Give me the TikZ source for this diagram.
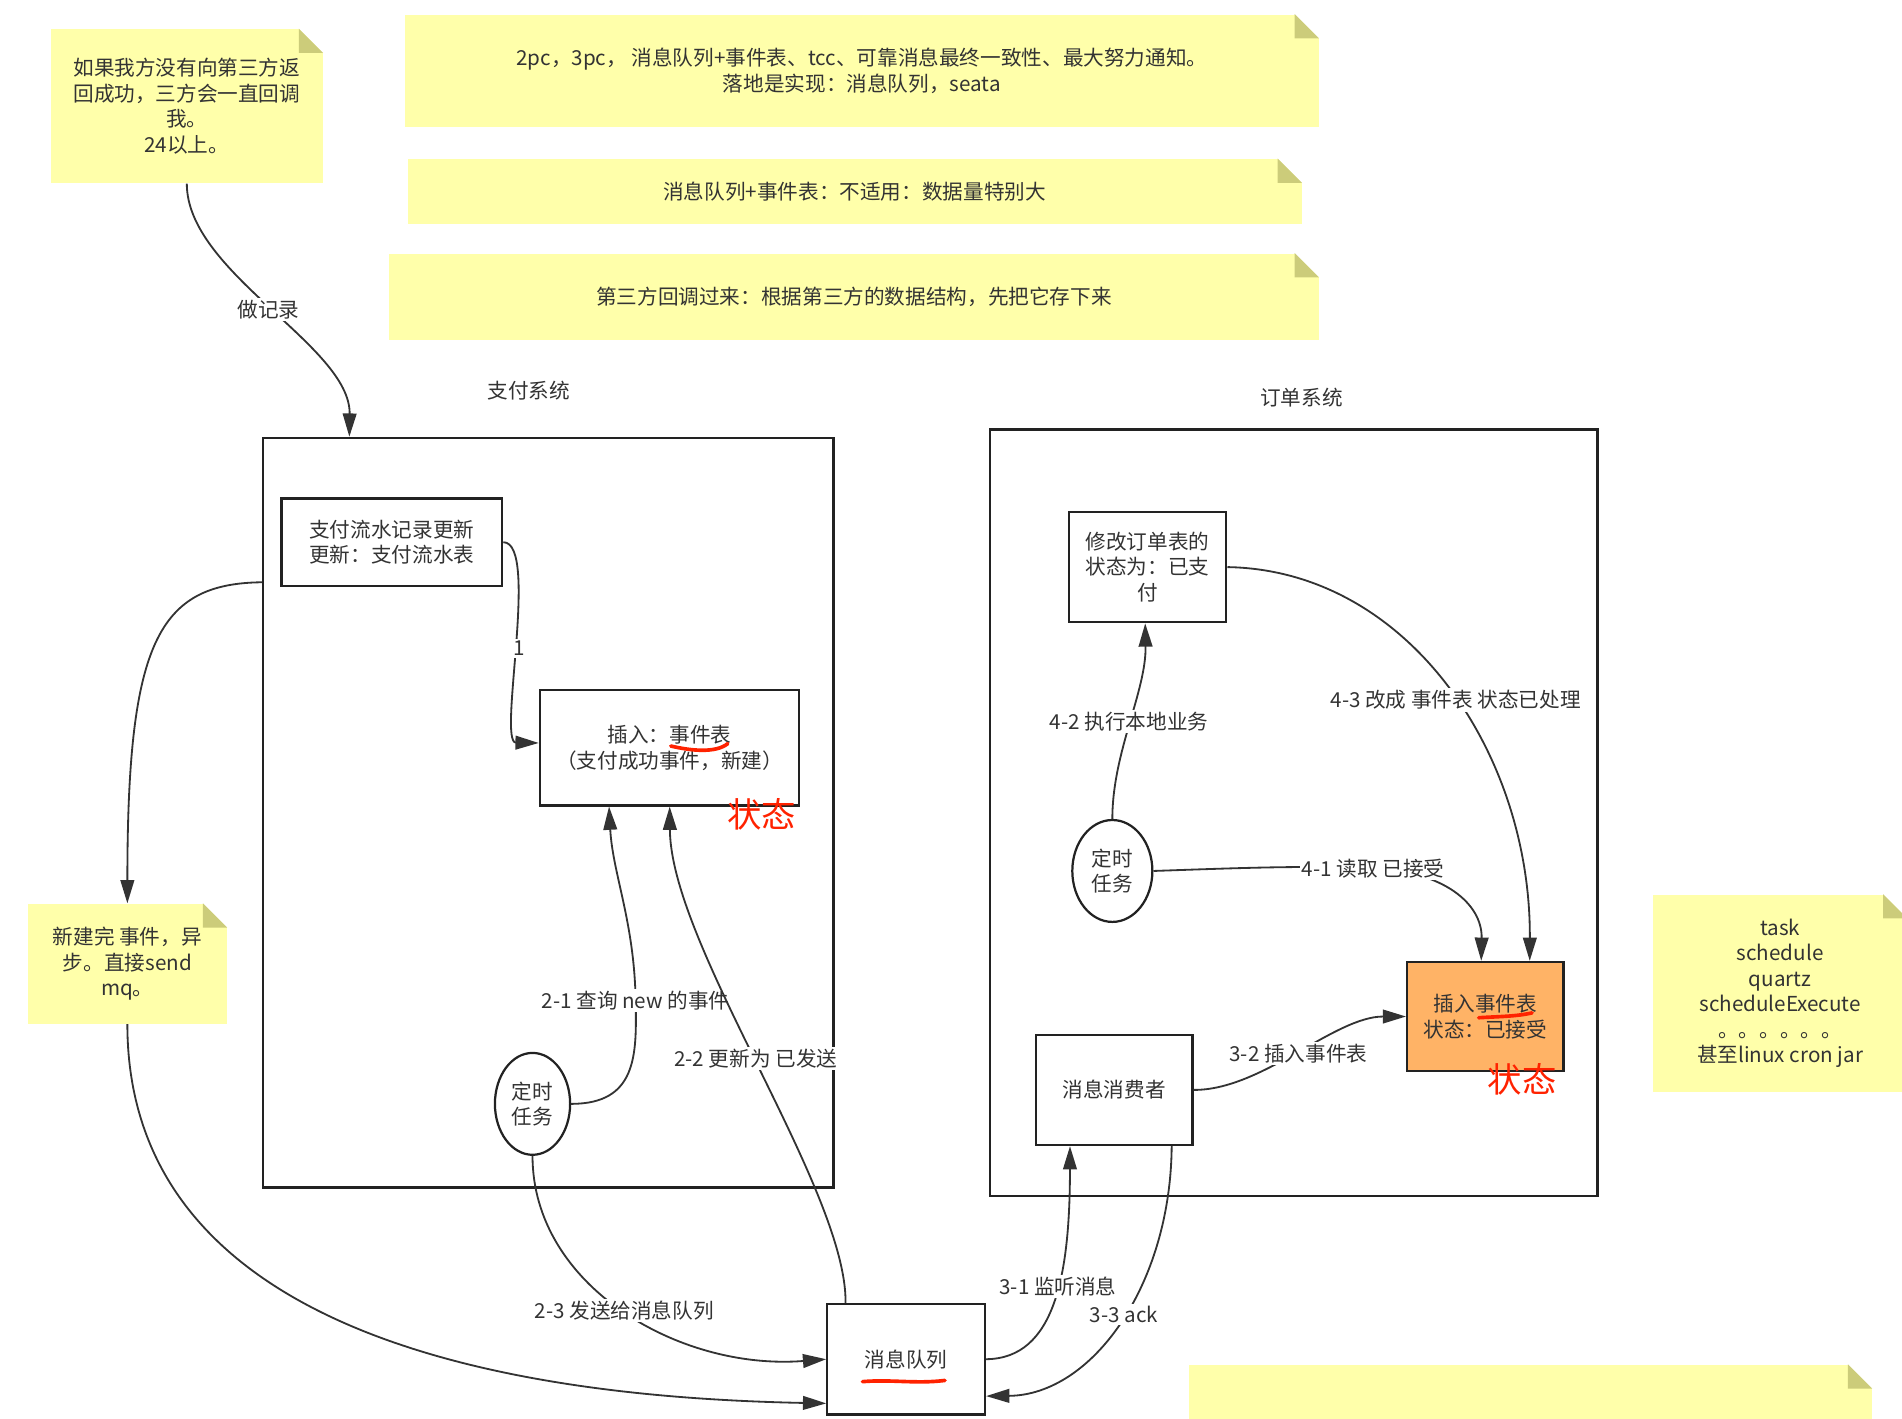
\documentclass[tikz,border=0pt]{standalone}
\usepackage{fontspec}
\setmainfont{Noto Sans CJK SC}
\usetikzlibrary{arrows.meta,shapes.geometric,calc}

\definecolor{notefill}{HTML}{FFFFAA}
\definecolor{notefold}{HTML}{CCCC7A}
\definecolor{txt}{HTML}{333333}
\definecolor{linecol}{HTML}{333333}
\definecolor{boxline}{HTML}{222222}
\definecolor{orangefill}{HTML}{FFB366}
\definecolor{markred}{HTML}{FF2200}

% folded top-right corner of a sticky note
\newcommand\foldcorner[1]{%
  \fill[white] ([xshift=-12pt]#1.north east) -- (#1.north east) -- ([yshift=-12pt]#1.north east) -- cycle;
  \fill[notefold] ([xshift=-12pt]#1.north east) -- ([xshift=-12pt,yshift=-12pt]#1.north east) -- ([yshift=-12pt]#1.north east) -- cycle;}

\begin{document}
\begin{tikzpicture}[x=0.6pt,y=-0.6pt,
  font=\fontsize{10.2}{12.6}\selectfont,
  note/.style={fill=notefill, align=center, inner sep=0pt, text=txt},
  box/.style={draw=boxline, line width=1.1pt, fill=white, align=center, inner sep=0pt, text=txt},
  frame/.style={draw=boxline, line width=1.2pt, inner sep=0pt},
  oval/.style={ellipse, draw=boxline, line width=1.1pt, fill=white, align=center, inner sep=0pt, text=txt},
  conn/.style={draw=linecol, line width=0.9pt, -{Triangle[length=11.5pt,width=6.8pt]}},
  lab/.style={fill=white, inner sep=1pt, text=txt},
  title/.style={text=txt},
  redtxt/.style={text=markred, font=\fontsize{17}{17}\selectfont},
  redmark/.style={draw=markred, line width=1.8pt, line cap=round}]

\useasboundingbox (0,0) rectangle (1568,1169);

% ---- sticky notes ----
\node[note, minimum width=134.4pt, minimum height=76.2pt] (n1) at (154,87.5)
  {如果我方没有向第三方返\\回成功，三方会一直回调\\我。\\24以上。};
\foldcorner{n1}
\node[note, minimum width=451.8pt, minimum height=55.8pt] (n2) at (710.5,58.5)
  {2pc，3pc， 消息队列+事件表、tcc、可靠消息最终一致性、最大努力通知。\\落地是实现：消息队列，seata};
\foldcorner{n2}
\node[note, minimum width=442.2pt, minimum height=32.4pt] (n3) at (704.5,158)
  {消息队列+事件表：不适用：数据量特别大};
\foldcorner{n3}
\node[note, minimum width=459.6pt, minimum height=42.6pt] (n4) at (704,244.5)
  {第三方回调过来：根据第三方的数据结构，先把它存下来};
\foldcorner{n4}
\node[note, minimum width=98.4pt, minimum height=59.4pt] (n5) at (105,794.5)
  {新建完 事件，异\\步。直接send\\mq。};
\foldcorner{n5}
\node[note, minimum width=125.4pt, minimum height=97.8pt] (n6) at (1467.5,819)
  {task\\schedule\\quartz\\scheduleExecute\\。。。。。。\\甚至linux cron jar};
\foldcorner{n6}
\node[note, minimum width=337.8pt, minimum height=36pt] (n7) at (1261.5,1155) {};
\foldcorner{n7}

% ---- system frames ----
\node[title] (paytitle) at (436,322) {支付系统};
\node[title] (ordertitle) at (1073,328) {订单系统};
\node[frame, minimum width=282pt, minimum height=370.8pt] (pay) at (452,670) {};
\node[frame, minimum width=300.6pt, minimum height=379.2pt] (order) at (1066.5,670) {};

% ---- payment side ----
\node[box, minimum width=109.2pt, minimum height=43.2pt] (flow) at (323,447)
  {支付流水记录更新\\更新：支付流水表};
\node[box, minimum width=128.4pt, minimum height=57pt] (evt) at (552,616.5)
  {插入：事件表\\（支付成功事件，新建）};
\node[oval, minimum width=37.2pt, minimum height=50.4pt] (paytask) at (439,910)
  {定时\\任务};
\node[box, minimum width=78pt, minimum height=54.6pt] (mq) at (747,1120.5) {消息队列};

% ---- order side ----
\node[box, minimum width=78pt, minimum height=54.6pt] (upd) at (946,467.5)
  {修改订单表的\\状态为：已支\\付};
\node[oval, minimum width=39.6pt, minimum height=50.4pt] (ordtask) at (917,718)
  {定时\\任务};
\node[box, fill=orangefill, minimum width=77.4pt, minimum height=54pt] (oevt) at (1224.5,838)
  {插入事件表\\状态：已接受};
\node[box, minimum width=77.4pt, minimum height=54.6pt] (cons) at (918.5,898.5) {消息消费者};

% ---- connectors ----
\draw[conn] (n1.south) .. controls (154,225) and (289,285) ..
  node[lab] {做记录} ($(pay.north west)+(72,0)$);
\draw[conn] ($(pay.north west)+(0,120)$) .. controls (130,481) and (105,530) .. (n5.north);
\draw[conn] (n5.south) .. controls (105,1060) and (330,1150) .. ($(mq.south west)+(0,-10)$);
\draw[conn] (flow.east) .. controls (445,447) and (410,612) ..
  node[lab, pos=0.52] {1} ($(evt.west)+(0,-4)$);
\draw[conn] (paytask.east) .. controls (525,910) and (525,870) .. (524,825)
  node[lab] {2-1 查询 new 的事件}
  .. controls (523,760) and (505,720) .. ($(evt.south west)+(58,0)$);
\draw[conn] ($(mq.north west)+(16,0)$) .. controls (698,980) and (553,780) ..
  node[lab, pos=0.51] {2-2 更新为 已发送} ($(evt.south west)+(108,0)$);
\draw[conn] (paytask.south) .. controls (439,1060) and (560,1130) ..
  node[lab] {2-3 发送给消息队列} (mq.west);
\draw[conn] (mq.east) .. controls (870,1120) and (882,1050) ..
  node[lab, pos=0.56] {3-1 监听消息} ($(cons.south west)+(29,0)$);
\draw[conn] ($(cons.south east)+(-18,0)$) .. controls (965,1060) and (900,1150) ..
  node[lab, pos=0.47] {3-3 ack} ($(mq.south east)+(0,-16)$);
\draw[conn] (cons.east) .. controls (1040,899) and (1100,838) ..
  node[lab] {3-2 插入事件表} (oevt.west);
\draw[conn] (ordtask.east) .. controls (1010,716) and (1080,713) .. (1132,716)
  node[lab] {4-1 读取 已接受}
  .. controls (1190,718) and (1222,745) .. ($(oevt.north west)+(62,0)$);
\draw[conn] (ordtask.north) .. controls (917,620) and (945,570) ..
  node[lab] {4-2 执行本地业务} ($(upd.south west)+(64,0)$);
\draw[conn] (upd.east) .. controls (1160,470) and (1262,620) ..
  node[lab, pos=0.53] {4-3 改成 事件表 状态已处理} ($(oevt.north west)+(102,0)$);

% ---- red hand marks ----
\node[redtxt] (st1) at (628,671) {状态};
\node[redtxt] (st2) at (1255,890) {状态};
\draw[redmark] (553,615) .. controls (570,619) and (590,621) .. (600,613);
\draw[redmark] (711,1139) .. controls (735,1137) and (755,1141) .. (779,1138);
\draw[redmark] (1219,839) .. controls (1235,838) and (1250,838) .. (1263,835);

\end{tikzpicture}
\end{document}
